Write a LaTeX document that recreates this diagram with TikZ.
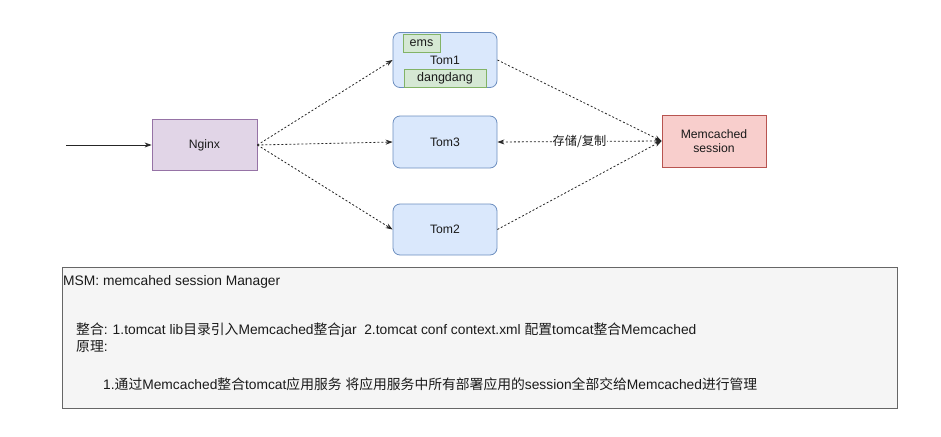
\documentclass[tikz,border=0pt]{standalone}
\usepackage{fontspec}
\setmainfont{Liberation Sans}
\newfontfamily\cjk{Noto Sans CJK SC}
\newcommand{\zh}[1]{{\cjk #1}}
\usetikzlibrary{arrows.meta,positioning}
\definecolor{nxfill}{HTML}{E1D5E7}
\definecolor{nxdraw}{HTML}{9673A6}
\definecolor{tmfill}{HTML}{DAE8FC}
\definecolor{tmdraw}{HTML}{6C8EBF}
\definecolor{grfill}{HTML}{D5E8D4}
\definecolor{grdraw}{HTML}{82B366}
\definecolor{mcfill}{HTML}{F8CECC}
\definecolor{mcdraw}{HTML}{B85450}
\definecolor{notefill}{HTML}{F5F5F5}
\definecolor{notedraw}{HTML}{666666}
\definecolor{txt}{HTML}{1A1A1A}
\tikzset{
  box/.style={draw, line width=0.8pt, inner sep=0pt, text=txt, font=\fontsize{12.2}{14}\selectfont, align=center},
  nginxbox/.style={box, fill=nxfill, draw=nxdraw, minimum width=105pt, minimum height=51pt},
  tombox/.style={box, fill=tmfill, draw=tmdraw, rounded corners=7pt, minimum width=104pt, minimum height=52pt},
  appbox/.style={box, fill=grfill, draw=grdraw, font=\fontsize{12.5}{14}\selectfont},
  mcbox/.style={box, fill=mcfill, draw=mcdraw, minimum width=104pt, minimum height=52pt},
  link/.style={draw=black!85, line width=0.8pt, dash pattern=on 2pt off 2pt, -{Stealth[length=7pt,width=5pt]}},
  biline/.style={link, {Stealth[length=7pt,width=5pt]}-{Stealth[length=7pt,width=5pt]}},
  notetext/.style={anchor=west, inner sep=0pt, text=txt, font=\fontsize{13.8}{16}\selectfont}
}
\begin{document}
\begin{tikzpicture}[x=1pt,y=-1pt]
\useasboundingbox (0,0) rectangle (941,436);
% note box
\node[draw=notedraw, fill=notefill, line width=0.8pt, minimum width=835pt, minimum height=141pt, anchor=north west, inner sep=0pt] (note) at (62,267) {};
\node[notetext] (t1) at (63,282) {MSM: memcahed session Manager};
\node[notetext] (t2) at (76,330) {\zh{整合}: 1.tomcat lib\zh{目录引入}Memcached\zh{整合}jar\ \ 2.tomcat conf context.xml \zh{配置}tomcat\zh{整合}Memcached};
\node[notetext] (t3) at (76,347) {\zh{原理}:};
\node[notetext] (t4) at (103,384) {1.\zh{通过}Memcached\zh{整合}tomcat\zh{应用服务} \zh{将应用服务中所有部署应用的}session\zh{全部交给}Memcached\zh{进行管理}};
% nodes
\coordinate (src) at (66,145);
\node[nginxbox] (nginx) at (204.5,145) {Nginx};
\node[tombox, minimum height=55pt] (tom1) at (445,60) {Tom1};
\node[appbox, minimum width=37pt, minimum height=18pt] (ems) at (421.5,43) {ems};
\node[appbox, minimum width=82pt, minimum height=18pt] (dd) at (445,78) {dangdang};
\node[tombox] (tom3) at (445,142) {Tom3};
\node[tombox, minimum height=51pt] (tom2) at (445,229.5) {Tom2};
\node[mcbox] (mc) at (714,141) {Memcached\\session};
% connectors
\draw[line width=0.8pt, black!85, -{Stealth[length=7pt,width=5pt]}] (src) -- (nginx.west);
\draw[link] (nginx.east) -- (tom1.west);
\draw[link] (nginx.east) -- (tom3.west);
\draw[link] (nginx.east) -- (tom2.west);
\draw[link] (tom1.east) -- (mc.west);
\draw[link] (tom2.east) -- (mc.west);
\draw[biline] (tom3.east) -- node[fill=white, inner sep=1pt, text=txt, font=\fontsize{12.2}{14}\selectfont\cjk] (lbl) {存储/复制} (mc.west);
\end{tikzpicture}
\end{document}
